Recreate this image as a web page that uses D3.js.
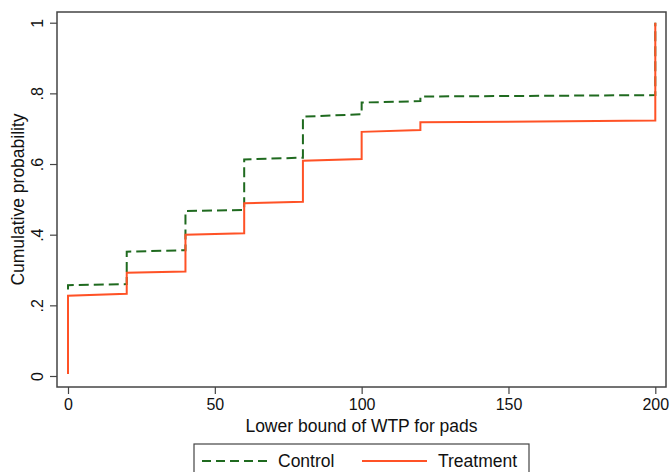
<!DOCTYPE html>
<html>
<head>
<meta charset="utf-8">
<script src="https://cdn.jsdelivr.net/npm/d3@7"></script>
<style>
  html, body { margin: 0; padding: 0; background: #fff; }
  svg { display: block; font-family: "Liberation Sans", Arial, sans-serif; }
</style>
</head>
<body>
<svg id="chart" width="671" height="472"></svg>
<script>
// ---- data ----
const controlX = [0, 0, 20, 20, 40, 40, 60, 60, 80, 80, 100, 100, 120, 120, 200, 200];
const controlY = [0.245, 0.257, 0.260, 0.352, 0.356, 0.467, 0.470, 0.613, 0.618, 0.734, 0.741, 0.774, 0.778, 0.791, 0.795, 1.0];
const treatX   = [0, 0, 20, 20, 40, 40, 60, 60, 80, 80, 100, 100, 120, 120, 200, 200];
const treatY   = [0.006, 0.227, 0.233, 0.292, 0.296, 0.400, 0.404, 0.489, 0.493, 0.609, 0.614, 0.691, 0.696, 0.718, 0.723, 1.0];
const xTicks = [0, 50, 100, 150, 200];
const yTicks = [0, 0.2, 0.4, 0.6, 0.8, 1];
const yTickLabels = ["0", ".2", ".4", ".6", ".8", "1"];
const seriesNames = ["Control", "Treatment"];
const xTitle = "Lower bound of WTP for pads";
const yTitle = "Cumulative probability";

const controlColor = "#1f6a1f";
const treatColor = "#ff5226";

const svg = d3.select("#chart");
const frame = {left: 57, top: 12, right: 666, bottom: 387};

const x = d3.scaleLinear().domain([0, 200]).range([68, 655.3]);
const y = d3.scaleLinear().domain([0, 1]).range([376, 22.7]);

// frame
svg.append("rect")
  .attr("x", frame.left).attr("y", frame.top)
  .attr("width", frame.right - frame.left).attr("height", frame.bottom - frame.top)
  .attr("fill", "none").attr("stroke", "#444").attr("stroke-width", 1.5);

// x axis
const gx = svg.append("g").attr("transform", `translate(0,${frame.bottom})`)
  .call(d3.axisBottom(x).tickValues(xTicks).tickSize(7).tickPadding(5).tickFormat(d3.format("d")));
gx.select(".domain").remove();
gx.selectAll(".tick line").attr("stroke", "#444").attr("stroke-width", 1.2);
gx.selectAll(".tick text").attr("font-size", 16).attr("fill", "#111")
  .attr("font-family", "Liberation Sans, Arial, sans-serif");

// y axis
const gy = svg.append("g").attr("transform", `translate(${frame.left},0)`)
  .call(d3.axisLeft(y).tickValues(yTicks).tickSize(7).tickFormat((d, i) => yTickLabels[i]));
gy.select(".domain").remove();
gy.selectAll(".tick line").attr("stroke", "#444").attr("stroke-width", 1.2);
gy.selectAll(".tick text")
  .attr("font-size", 16).attr("fill", "#111")
  .attr("font-family", "Liberation Sans, Arial, sans-serif")
  .attr("transform", "rotate(-90)")
  .attr("x", 0).attr("y", -14.5).attr("dy", 0)
  .attr("text-anchor", "middle");

// titles
svg.append("text").attr("x", 361.5).attr("y", 432)
  .attr("text-anchor", "middle").attr("font-size", 17.5).attr("fill", "#111").text(xTitle);
svg.append("text").attr("transform", `translate(24,${(frame.top + frame.bottom) / 2}) rotate(-90)`)
  .attr("text-anchor", "middle").attr("font-size", 17.5).attr("fill", "#111").text(yTitle);

// lines
const line = d3.line().x(d => x(d[0])).y(d => y(d[1]));
const controlData = controlX.map((v, i) => [v, controlY[i]]);
const treatData = treatX.map((v, i) => [v, treatY[i]]);

svg.append("path").datum(controlData).attr("d", line)
  .attr("fill", "none").attr("stroke", controlColor).attr("stroke-width", 2)
  .attr("stroke-dasharray", "10,5");
svg.append("path").datum(treatData).attr("d", line)
  .attr("fill", "none").attr("stroke", treatColor).attr("stroke-width", 2);

// legend
const lg = svg.append("g");
lg.append("rect").attr("x", 194).attr("y", 444).attr("width", 335).attr("height", 40)
  .attr("fill", "#fff").attr("stroke", "#444").attr("stroke-width", 1.2);
lg.append("line").attr("x1", 202).attr("x2", 268).attr("y1", 461).attr("y2", 461)
  .attr("stroke", controlColor).attr("stroke-width", 2).attr("stroke-dasharray", "9,5");
lg.append("text").attr("x", 278).attr("y", 467).attr("font-size", 17.5).attr("fill", "#111").text(seriesNames[0]);
lg.append("line").attr("x1", 362).attr("x2", 427).attr("y1", 461).attr("y2", 461)
  .attr("stroke", treatColor).attr("stroke-width", 2);
lg.append("text").attr("x", 438).attr("y", 467).attr("font-size", 17.5).attr("fill", "#111").text(seriesNames[1]);
</script>
</body>
</html>
